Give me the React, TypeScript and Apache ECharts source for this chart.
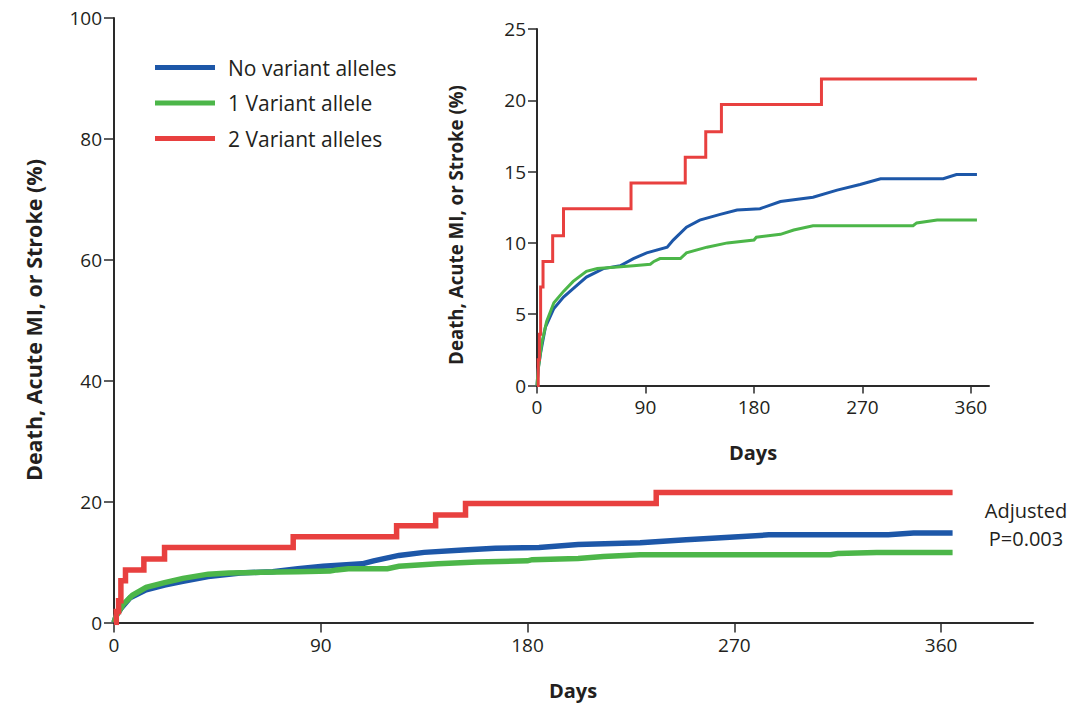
import React, { useEffect, useRef } from "react";
import * as echarts from "echarts";

// ---- data (days, cumulative %) ----
const seriesNames = ["No variant alleles", "1 Variant allele", "2 Variant alleles"];

const noVariant: [number, number][] = [
  [0, 0], [1, 1.2], [3, 2.3], [7, 4.1], [14, 5.4], [22, 6.2], [30, 6.8], [41, 7.6],
  [55, 8.2], [69, 8.4], [80, 8.9], [91, 9.3], [108, 9.7], [113, 10.2], [124, 11.1],
  [135, 11.6], [152, 12.0], [166, 12.3], [185, 12.4], [202, 12.9], [229, 13.2],
  [249, 13.7], [268, 14.1], [285, 14.5], [304, 14.5], [337, 14.5], [348, 14.8], [365, 14.8],
];

const oneVariant: [number, number][] = [
  [0, 0], [1, 1.1], [4, 3.0], [8, 4.5], [14, 5.8], [22, 6.6], [30, 7.3], [41, 8.0],
  [50, 8.2], [64, 8.3], [80, 8.4], [94, 8.5], [97, 8.7], [102, 8.9], [119, 8.9],
  [124, 9.3], [141, 9.7], [158, 10.0], [180, 10.2], [182, 10.4], [202, 10.6],
  [213, 10.9], [229, 11.2], [263, 11.2], [312, 11.2], [315, 11.4], [332, 11.6], [365, 11.6],
];

const twoVariant: [number, number][] = [
  [0, 0], [1, 1.8], [2, 3.6], [3, 6.9], [5, 8.7], [13, 10.5], [22, 12.4], [78, 14.2],
  [123, 16.0], [140, 17.8], [153, 19.7], [236, 21.5], [365, 21.5],
];

const dayTicks = [0, 90, 180, 270, 360];
const annotation = ["Adjusted", "P=0.003"];
const yTitle = "Death, Acute MI, or Stroke (%)";
const xTitle = "Days";

const COLORS = ["#1d57a8", "#4cb649", "#e8403f"];
const TXT = "#231f20";
const FONT = "'Open Sans', 'Noto Sans', sans-serif";

export default function App() {
  const ref = useRef<HTMLDivElement>(null);

  useEffect(() => {
    if (!ref.current) return;
    const chart = echarts.init(ref.current, undefined, { renderer: "svg" });

    const axisCommon = {
      axisLine: { show: true, lineStyle: { color: "#2a2a2a", width: 2 } },
      axisTick: { show: true, inside: false, length: 9, lineStyle: { color: "#2a2a2a", width: 1.5 } },
      splitLine: { show: false },
      axisLabel: { color: TXT, fontSize: 19, fontFamily: FONT },
    };

    const datasets = [noVariant, oneVariant, twoVariant];

    const mkSeries = (gridIdx: number, width: number) =>
      datasets.map((d, i) => ({
        type: "line",
        name: seriesNames[i],
        xAxisIndex: gridIdx,
        yAxisIndex: gridIdx,
        data: d,
        step: i === 2 ? "end" : undefined,
        showSymbol: false,
        symbol: "none",
        color: COLORS[i],
        lineStyle: { color: COLORS[i], width, join: "miter" },
        z: 2 + i,
      }));

    chart.setOption({
      animation: false,
      backgroundColor: "#ffffff",
      grid: [
        { left: 114, top: 18, width: 919, height: 604.5 },
        { left: 537, top: 29, width: 452, height: 356.5 },
      ],
      xAxis: [
        {
          ...axisCommon,
          gridIndex: 0,
          type: "value",
          min: 0,
          max: 400,
          interval: 90,
          axisTick: { ...axisCommon.axisTick, length: 10, customValues: dayTicks },
          axisLabel: { ...axisCommon.axisLabel, customValues: dayTicks, margin: 13 },
        },
        {
          ...axisCommon,
          gridIndex: 1,
          type: "value",
          min: 0,
          max: 375,
          interval: 90,
          axisTick: { ...axisCommon.axisTick, length: 8, customValues: dayTicks },
          axisLabel: { ...axisCommon.axisLabel, customValues: dayTicks, margin: 12 },
        },
      ],
      yAxis: [
        {
          ...axisCommon,
          gridIndex: 0,
          type: "value",
          min: 0,
          max: 100,
          interval: 20,
          axisLabel: { ...axisCommon.axisLabel, margin: 12 },
          axisTick: { ...axisCommon.axisTick, length: 10 },
        },
        {
          ...axisCommon,
          gridIndex: 1,
          type: "value",
          min: 0,
          max: 25,
          interval: 5,
          axisLabel: { ...axisCommon.axisLabel, margin: 11 },
          axisTick: { ...axisCommon.axisTick, length: 9 },
        },
      ],
      legend: {
        orient: "vertical",
        left: 150,
        top: 52,
        icon: "rect",
        itemWidth: 60,
        itemHeight: 5,
        itemGap: 14.5,
        data: seriesNames,
        textStyle: {
          color: TXT,
          fontSize: 21,
          fontFamily: FONT,
          lineHeight: 21,
          padding: [0, 0, 0, 8],
        },
      },
      graphic: [
        {
          type: "text",
          x: 33,
          y: 320,
          rotation: Math.PI / 2,
          style: {
            text: yTitle,
            align: "center",
            verticalAlign: "middle",
            fill: TXT,
            font: `bold 21.5px ${FONT}`,
          },
        },
        {
          type: "text",
          x: 573,
          y: 690,
          style: {
            text: xTitle,
            align: "center",
            verticalAlign: "middle",
            fill: TXT,
            font: `bold 20px ${FONT}`,
          },
        },
        {
          type: "text",
          x: 455,
          y: 225,
          rotation: Math.PI / 2,
          style: {
            text: yTitle,
            align: "center",
            verticalAlign: "middle",
            fill: TXT,
            font: `bold 18.7px ${FONT}`,
          },
        },
        {
          type: "text",
          x: 753,
          y: 452,
          style: {
            text: xTitle,
            align: "center",
            verticalAlign: "middle",
            fill: TXT,
            font: `bold 20px ${FONT}`,
          },
        },
        {
          type: "text",
          x: 1026,
          y: 510,
          style: {
            text: annotation[0],
            align: "center",
            verticalAlign: "middle",
            fill: TXT,
            font: `20px ${FONT}`,
          },
        },
        {
          type: "text",
          x: 1026,
          y: 538,
          style: {
            text: annotation[1],
            align: "center",
            verticalAlign: "middle",
            fill: TXT,
            font: `20px ${FONT}`,
          },
        },
      ],
      series: [...mkSeries(0, 5.5), ...mkSeries(1, 3)],
    });

    return () => chart.dispose();
  }, []);

  return (
    <div
      ref={ref}
      style={{ position: "absolute", left: 0, top: 0, width: 1088, height: 705 }}
    />
  );
}
